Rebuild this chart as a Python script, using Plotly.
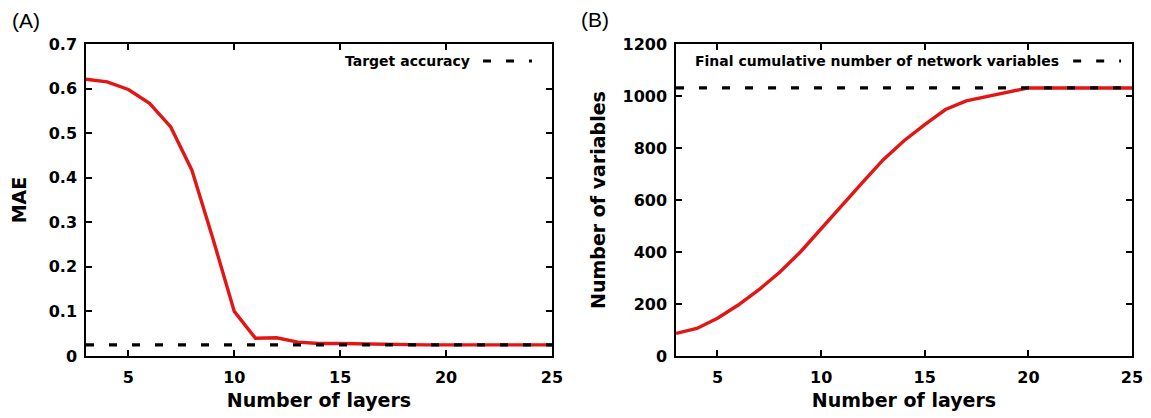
import plotly.graph_objects as go

layers = list(range(3, 26))
mae = [0.621, 0.615, 0.598, 0.567, 0.514, 0.417, 0.262, 0.100, 0.040, 0.041,
       0.031, 0.028, 0.028, 0.027, 0.026, 0.025, 0.025, 0.025, 0.025, 0.025,
       0.025, 0.025, 0.025]
n_vars = [87, 106, 145, 196, 255, 322, 400, 490, 582, 668, 755, 828, 890, 948,
          981, 997, 1013, 1031, 1031, 1031, 1031, 1031, 1031]
target_accuracy = 0.025
final_vars = 1031
x_ticks = [5, 10, 15, 20, 25]
legend_a = "Target accuracy"
legend_b = "Final cumulative number of network variables"

RED = "rgb(226,22,20)"
FONT = "DejaVu Sans"

fig = go.Figure()
fig.add_trace(go.Scatter(x=layers, y=mae, mode="lines",
                         line=dict(color=RED, width=3.4), xaxis="x", yaxis="y",
                         showlegend=False))
fig.add_trace(go.Scatter(x=[layers[0], layers[-1]], y=[target_accuracy] * 2, mode="lines",
                         line=dict(color="black", width=3.2, dash="8px,15px"),
                         xaxis="x", yaxis="y", showlegend=False))
fig.add_trace(go.Scatter(x=layers, y=n_vars, mode="lines",
                         line=dict(color=RED, width=3.4), xaxis="x2", yaxis="y2",
                         showlegend=False))
fig.add_trace(go.Scatter(x=[layers[0], layers[-1]], y=[final_vars] * 2, mode="lines",
                         line=dict(color="black", width=3.2, dash="8px,15px"),
                         xaxis="x2", yaxis="y2", showlegend=False))

tickfont = dict(family=FONT, size=16, color="black", weight="bold")
titlefont = dict(family=FONT, size=19, color="black", weight="bold")

common_x = dict(range=[3, 25], tickvals=x_ticks, ticks="inside", ticklen=6,
                tickwidth=1.5, tickcolor="black", showline=True, linecolor="black",
                linewidth=1.5, mirror="ticks", showgrid=False, zeroline=False,
                tickfont=tickfont, ticklabelstandoff=6, automargin=False)
common_y = dict(ticks="inside", ticklen=6, tickwidth=1.5, tickcolor="black",
                showline=True, linecolor="black", linewidth=1.5, mirror="ticks",
                showgrid=False, zeroline=False, tickfont=tickfont,
                ticklabelstandoff=4, automargin=False)

# page body has an 8px margin, so the figure is 8px smaller and margins shifted
fig.update_layout(
    width=1143, height=410,
    margin=dict(l=78, r=19, t=36, b=62, autoexpand=False),
    plot_bgcolor="white", paper_bgcolor="white",
    xaxis=dict(domain=[0, 0.4455], anchor="y",
               title=dict(text="Number of layers", font=titlefont, standoff=8),
               **common_x),
    yaxis=dict(domain=[0, 1], anchor="x", range=[0, 0.7], dtick=0.1,
               tickformat=".1~f",
               title=dict(text="MAE", font=titlefont, standoff=18),
               **common_y),
    xaxis2=dict(domain=[0.5641, 1], anchor="y2",
                title=dict(text="Number of layers", font=titlefont, standoff=8),
                **common_x),
    yaxis2=dict(domain=[0, 1], anchor="x2", range=[0, 1200], dtick=200,
                title=dict(text="Number of variables", font=titlefont, standoff=12),
                **common_y),
    showlegend=False,
)

# Panel labels
fig.add_annotation(text="(A)", xref="paper", yref="paper", x=-0.0727, y=1.0,
                   yshift=24, xanchor="left", yanchor="middle", showarrow=False,
                   font=dict(family="Liberation Sans", size=21, color="black"))
fig.add_annotation(text="(B)", xref="paper", yref="paper", x=0.4713, y=1.0,
                   yshift=25, xanchor="left", yanchor="middle", showarrow=False,
                   font=dict(family="Liberation Sans", size=21, color="black"))

# Gnuplot-style key (text left of sample)
legfont = dict(family=FONT, size=14, color="black", weight="bold")
ly = 0.9455
fig.add_annotation(text=legend_a, xref="x domain", yref="y domain", x=0.828, y=ly,
                   xanchor="right", yanchor="middle", showarrow=False, font=legfont)
fig.add_shape(type="line", xref="x domain", yref="y domain", x0=0.852, x1=0.957,
              y0=ly, y1=ly, line=dict(color="black", width=3.2, dash="8px,15px"))
fig.add_annotation(text=legend_b, xref="x2 domain", yref="y2 domain", x=0.844, y=ly,
                   xanchor="right", yanchor="middle", showarrow=False, font=legfont)
fig.add_shape(type="line", xref="x2 domain", yref="y2 domain", x0=0.871, x1=0.976,
              y0=ly, y1=ly, line=dict(color="black", width=3.2, dash="8px,15px"))

fig.write_html("out.html")
